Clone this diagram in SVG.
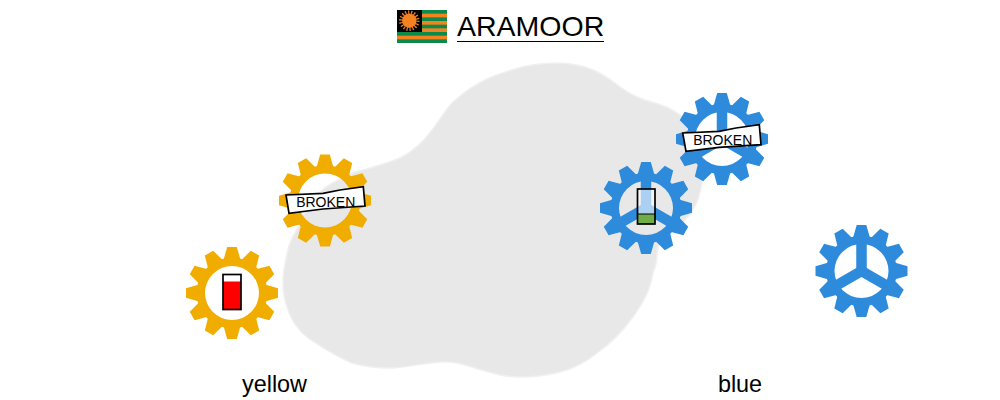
<svg xmlns="http://www.w3.org/2000/svg" width="1000" height="400" viewBox="0 0 1000 400">
<style>
text{font-family:"Liberation Sans",Arial,sans-serif;fill:#000}
.yellow{fill:#f0ad00}
.blue{fill:#2e8bdc}
.lbl{font-size:23.400px;text-anchor:middle}
.brk{font-size:14px;text-anchor:middle}
.tag{fill:#fff;stroke:#000;stroke-width:1.7}
.glass{fill:none;stroke:#000;stroke-width:1.7}
.or{fill:#f58220}
</style>
<defs>
<polygon id="tooth" points="-8.500,-33 -4.800,-46 4.800,-46 8.500,-33"/>
<g id="gear">
<path fill-rule="evenodd" d="M0-35.500A35.500 35.500 0 1 1 0 35.500A35.500 35.500 0 1 1 0-35.500ZM0-27A27 27 0 1 0 0 27A27 27 0 1 0 0-27Z"/>
<use href="#tooth"/><use href="#tooth" transform="rotate(30)"/><use href="#tooth" transform="rotate(60)"/><use href="#tooth" transform="rotate(90)"/><use href="#tooth" transform="rotate(120)"/><use href="#tooth" transform="rotate(150)"/><use href="#tooth" transform="rotate(180)"/><use href="#tooth" transform="rotate(210)"/><use href="#tooth" transform="rotate(240)"/><use href="#tooth" transform="rotate(270)"/><use href="#tooth" transform="rotate(300)"/><use href="#tooth" transform="rotate(330)"/>
</g>
<g id="spokes">
<rect x="-5.25" y="-30" width="10.5" height="30"/>
<rect x="-5.25" y="-30" width="10.5" height="30" transform="rotate(120)"/>
<rect x="-5.25" y="-30" width="10.5" height="30" transform="rotate(240)"/>
<circle r="5.25"/>
</g>
</defs>
<path id="blob" fill="#e8e8e8" stroke="#f0f0f0" stroke-width="1.5" d="M515 69C530 64 545 63 560 63C585 64 600 72 615 83C630 95 640 99 655 103C680 110 698 125 702 155C705 180 700 203 688 217C675 231 660 232 657 253C657 262 656 265 653 273C650 290 645 300 633 317C622 332 612 343 597 353C585 363 572 369 560 372C545 376 532 377 520 377C505 377 495 374 482 370C470 367 460 362 448 362C430 361 412 367 392 368C375 368 365 367 352 363C335 356 320 346 308 338C298 330 292 322 288 310C284 300 283 293 283 283C283 270 285 262 288 250C290 240 294 235 298 227C305 210 312 198 322 190C332 182 342 178 352 173C368 168 385 165 402 157C415 150 424 141 432 130C440 120 445 110 453 102C462 94 472 86 485 80C495 75 505 72 515 69Z"/>
<g id="title">
<g id="flag">
<rect x="397" y="10" width="50" height="33" fill="#0b8a4a"/>
<rect class="or" x="397" y="13.670" width="50" height="3.670"/>
<rect class="or" x="397" y="21" width="50" height="3.670"/>
<rect class="or" x="397" y="28.330" width="50" height="3.670"/>
<rect class="or" x="397" y="35.670" width="50" height="3.670"/>
<rect x="397" y="10" width="25" height="22" fill="#000"/>
<circle class="or" cx="409.300" cy="20.700" r="7.200"/>
<circle cx="409.300" cy="20.700" r="8.500" fill="none" stroke="#f58220" stroke-width="3.500" stroke-dasharray="1.200 1.770"/>
</g>
<text x="457" y="36" font-size="28.500">ARAMOOR</text>
<line x1="457" y1="41.500" x2="604" y2="41.500" stroke="#000" stroke-width="1"/>
</g>
<g id="node-yellow-1">
<use href="#gear" class="yellow" x="232" y="293"/>
<rect x="223" y="274.500" width="18" height="35" fill="#fff"/>
<rect x="223" y="281.500" width="18" height="28" fill="#f00"/>
<rect x="223" y="274.500" width="18" height="35" class="glass"/>
</g>
<g id="node-yellow-2">
<use href="#gear" class="yellow" x="325" y="200.500"/>
<polygon class="tag" points="286,195 323,193.300 340,190 363.300,186.700 365,206 323,209 289,213.300"/>
<text class="brk" x="325.700" y="207">BROKEN</text>
</g>
<g id="node-blue-1">
<use href="#gear" class="blue" x="646" y="208"/>
<use href="#spokes" class="blue" x="646" y="208"/>
<rect x="637.500" y="189" width="17.500" height="35" fill="#fff" fill-opacity=".6"/>
<rect x="637.500" y="214" width="17.500" height="10" fill="#70ad47"/>
<rect x="637.500" y="189" width="17.500" height="35" class="glass"/>
<line x1="637.500" y1="214" x2="655" y2="214" stroke="#000" stroke-width="1"/>
</g>
<g id="node-blue-2">
<use href="#gear" class="blue" x="722" y="139"/>
<use href="#spokes" class="blue" x="722" y="139"/>
<polygon class="tag" points="682.700,133 719,131.300 736,128 759.300,124.700 761,144.700 719,147.300 686,151.300"/>
<text class="brk" x="722.700" y="145">BROKEN</text>
</g>
<g id="node-blue-3">
<use href="#gear" class="blue" x="861.500" y="271"/>
<use href="#spokes" class="blue" x="861.500" y="271"/>
</g>
<text class="lbl" x="274.500" y="392">yellow</text>
<text class="lbl" x="740" y="392">blue</text>
<g id="connectors"/>
</svg>
